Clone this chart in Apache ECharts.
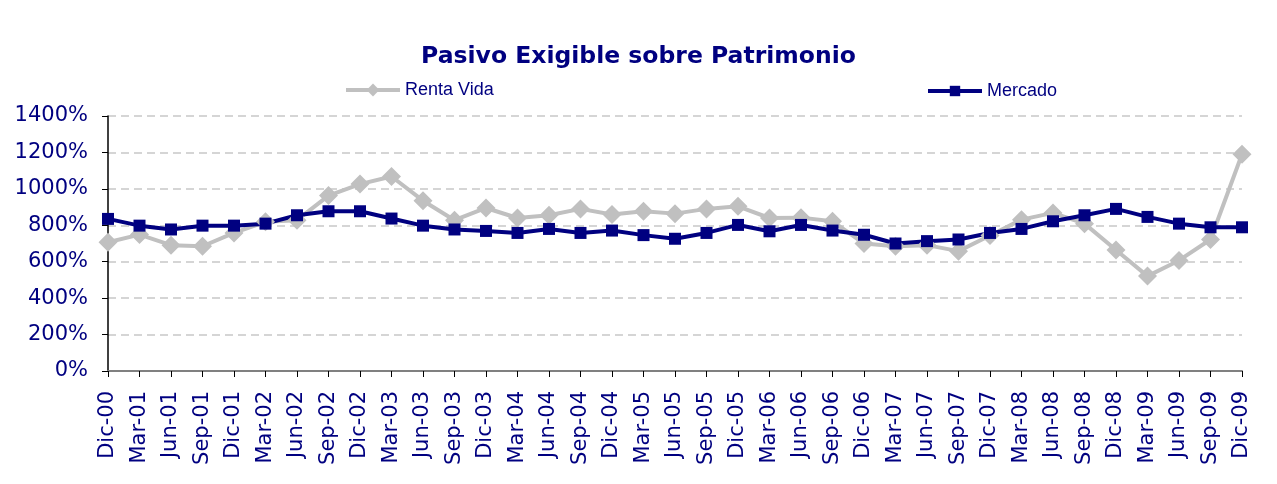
<!DOCTYPE html>
<html>
<head>
<meta charset="utf-8">
<title>Pasivo Exigible sobre Patrimonio</title>
<script src="https://cdn.jsdelivr.net/npm/echarts@6/dist/echarts.min.js"></script>
<style>
    html, body { margin: 0; padding: 0; background: #fff; }
    #chart { width: 1277px; height: 484px; }
</style>
</head>
<body>
<div id="chart"></div>
<script>
// trimestres
const categorias = ['Dic-00', 'Mar-01', 'Jun-01', 'Sep-01', 'Dic-01', 'Mar-02', 'Jun-02', 'Sep-02', 'Dic-02',
    'Mar-03', 'Jun-03', 'Sep-03', 'Dic-03', 'Mar-04', 'Jun-04', 'Sep-04', 'Dic-04', 'Mar-05', 'Jun-05',
    'Sep-05', 'Dic-05', 'Mar-06', 'Jun-06', 'Sep-06', 'Dic-06', 'Mar-07', 'Jun-07', 'Sep-07', 'Dic-07',
    'Mar-08', 'Jun-08', 'Sep-08', 'Dic-08', 'Mar-09', 'Jun-09', 'Sep-09', 'Dic-09'];

// valores en %
const rentaVida = [707, 749, 691, 685, 758, 819, 828, 963, 1026, 1068, 935, 828, 895, 840, 855, 890, 859,
    877, 864, 890, 904, 840, 842, 822, 700, 685, 691, 658, 744, 831, 868, 809, 664, 521, 607, 722, 1190];
const mercado = [835, 798, 777, 798, 798, 809, 855, 877, 877, 837, 798, 777, 769, 758, 780, 758, 771,
    746, 726, 758, 802, 767, 802, 771, 748, 700, 713, 722, 758, 780, 822, 855, 890, 846, 809, 789, 789];

const ejeY = { min: 0, max: 1400, interval: 200 };

const azul = '#000080';
const gris = '#c0c0c0';

const myChart = echarts.init(document.getElementById('chart'));
myChart.setOption({
    animation: false,
    title: {
        text: 'Pasivo Exigible sobre Patrimonio',
        left: 'center',
        top: 45,
        padding: 0,
        textStyle: {
            fontFamily: 'DejaVu Sans',
            fontSize: 23.5,
            fontWeight: 'bold',
            color: azul
        }
    },
    legend: [
        {
            data: ['Renta Vida'],
            left: 344,
            top: 81,
            padding: 0,
            itemWidth: 54,
            itemHeight: 16,
            lineStyle: { width: 4 },
            textStyle: { fontFamily: 'Liberation Sans', fontSize: 18, color: azul }
        },
        {
            data: ['Mercado'],
            left: 926,
            top: 82,
            padding: 0,
            itemWidth: 54,
            itemHeight: 13,
            lineStyle: { width: 4 },
            textStyle: { fontFamily: 'Liberation Sans', fontSize: 18, color: azul }
        }
    ],
    grid: {
        left: 108,
        right: 35,
        top: 116,
        bottom: 113
    },
    xAxis: {
        type: 'category',
        data: categorias,
        boundaryGap: false,
        axisLine: { lineStyle: { color: '#808080', width: 2 } },
        axisTick: { show: true, length: 6, lineStyle: { color: '#000' } },
        axisLabel: {
            rotate: 90,
            interval: 0,
            margin: 20,
            fontFamily: 'DejaVu Sans',
            fontSize: 21,
            color: azul
        },
        splitLine: { show: false }
    },
    yAxis: {
        type: 'value',
        min: ejeY.min,
        max: ejeY.max,
        interval: ejeY.interval,
        axisLine: { show: true, lineStyle: { color: '#000', width: 1.5 } },
        axisTick: { show: true, length: 6, lineStyle: { color: '#000' } },
        axisLabel: {
            formatter: v => v + '%',
            margin: 20,
            fontFamily: 'DejaVu Sans',
            fontSize: 21,
            color: azul
        },
        splitLine: { lineStyle: { color: '#c8c8c8', type: [8, 5], width: 1.5 } }
    },
    series: [
        {
            name: 'Renta Vida',
            type: 'line',
            data: rentaVida,
            symbol: 'diamond',
            symbolSize: 19,
            color: gris,
            lineStyle: { color: gris, width: 4 },
            itemStyle: { color: gris }
        },
        {
            name: 'Mercado',
            type: 'line',
            data: mercado,
            symbol: 'rect',
            symbolSize: 12,
            color: azul,
            lineStyle: { color: azul, width: 4 },
            itemStyle: { color: azul }
        }
    ]
});

window.addEventListener('resize', () => {
    myChart.resize();
}, false);
</script>
</body>
</html>
